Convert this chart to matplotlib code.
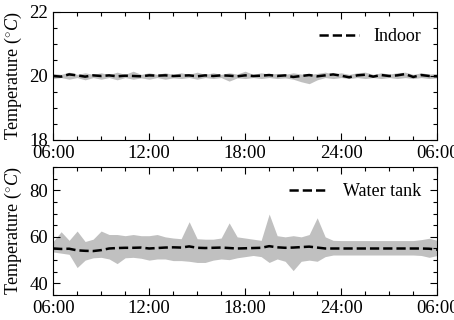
import numpy as np
import matplotlib.pyplot as plt
from matplotlib.ticker import MultipleLocator, FuncFormatter

plt.rcParams['font.family'] = ['Liberation Serif', 'DejaVu Serif']
plt.rcParams['mathtext.fontset'] = 'custom'
plt.rcParams['mathtext.rm'] = 'Liberation Serif'
plt.rcParams['mathtext.it'] = 'Liberation Serif:italic'

# hours since 00:00 of day 1, every half hour from 06:00 to 06:00
hours = np.arange(6.0, 30.01, 0.5)

indoor_mean = [20.00, 19.98, 20.05, 20.02, 19.98, 20.02, 20.00, 20.02, 19.99, 20.01,
               20.00, 19.99, 20.02, 20.01, 20.02, 20.00, 20.01, 20.02, 19.99, 20.02,
               20.00, 20.02, 20.01, 19.99, 20.02, 20.00, 20.01, 20.03, 20.00, 20.02,
               19.97, 20.00, 20.03, 19.99, 20.02, 20.05, 20.01, 19.96, 20.02, 20.04,
               19.98, 20.03, 20.00, 20.02, 20.06, 19.97, 20.03, 20.00, 19.99]
indoor_low = [19.92, 19.95, 19.90, 19.95, 19.88, 19.95, 19.90, 19.95, 19.88, 19.95,
              19.90, 19.94, 19.90, 19.95, 19.90, 19.94, 19.92, 19.95, 19.90, 19.95,
              19.92, 19.95, 19.84, 19.94, 19.92, 19.95, 19.92, 19.95, 19.92, 19.94,
              19.90, 19.82, 19.76, 19.88, 19.95, 19.92, 19.95, 19.92, 19.95, 19.92,
              19.95, 19.92, 19.95, 19.92, 19.95, 19.92, 19.95, 19.92, 19.94]
indoor_high = [20.08, 20.05, 20.12, 20.05, 20.10, 20.05, 20.10, 20.04, 20.12, 20.05,
               20.15, 20.05, 20.10, 20.05, 20.10, 20.05, 20.10, 20.05, 20.12, 20.05,
               20.10, 20.05, 20.10, 20.06, 20.15, 20.05, 20.10, 20.06, 20.08, 20.05,
               20.10, 20.06, 20.05, 20.08, 20.12, 20.06, 20.10, 20.05, 20.10, 20.12,
               20.05, 20.10, 20.06, 20.10, 20.12, 20.05, 20.10, 20.06, 20.08]

tank_mean = [55.0, 54.8, 54.9, 54.2, 54.0, 53.9, 54.3, 55.0, 55.2, 55.3,
             55.3, 55.4, 55.0, 55.2, 55.4, 55.5, 55.4, 55.9, 55.3, 55.2,
             55.3, 55.4, 55.2, 55.0, 55.1, 55.2, 55.3, 56.0, 55.5, 55.3,
             55.4, 55.6, 55.8, 55.4, 55.0, 55.0, 55.0, 55.0, 55.0, 55.0,
             55.0, 55.0, 55.0, 55.0, 55.0, 55.0, 55.0, 54.9, 54.5]
tank_low = [53.5, 53.0, 52.5, 46.8, 50.0, 51.0, 51.2, 50.5, 48.5, 51.0,
            51.2, 50.8, 50.0, 50.5, 50.5, 49.8, 49.8, 49.5, 49.0, 49.0,
            50.0, 50.5, 50.2, 51.0, 51.5, 52.0, 51.5, 49.0, 50.5, 49.5,
            45.5, 49.5, 50.0, 49.5, 51.5, 52.2, 52.2, 52.2, 52.2, 52.2,
            52.2, 52.2, 52.2, 52.2, 52.2, 52.2, 52.0, 51.2, 52.0]
tank_high = [58.0, 62.2, 58.5, 62.5, 58.0, 59.0, 62.5, 61.0, 61.0, 60.5,
             61.0, 60.5, 60.5, 61.0, 60.0, 59.5, 59.2, 66.5, 59.2, 59.0,
             59.0, 59.5, 66.0, 60.0, 59.5, 59.0, 58.5, 69.8, 60.5, 60.0,
             60.5, 60.0, 61.0, 68.2, 60.0, 58.5, 58.4, 58.4, 58.4, 58.4,
             58.4, 58.4, 58.4, 58.4, 58.4, 58.4, 58.8, 59.4, 58.5]


def hhmm(x, pos):
    h = int(round(x))
    return '%02d:00' % (h if h <= 24 else h - 24)


fig = plt.figure(figsize=(4.54, 3.2), dpi=100)
ax1 = fig.add_axes([0.117, 0.5625, 0.846, 0.4])
ax2 = fig.add_axes([0.117, 0.078, 0.846, 0.4])

panels = [
    (ax1, indoor_mean, indoor_low, indoor_high, 'Indoor', (18, 22), 2, 0.5),
    (ax2, tank_mean, tank_low, tank_high, 'Water tank', (35, 90), 20, 5),
]

for ax, mean, low, high, name, ylim, major, minor in panels:
    ax.fill_between(hours, low, high, color='#c0c0c0', linewidth=0)
    ax.plot(hours, mean, '--', color='black', linewidth=1.8, label=name)
    ax.set_xlim(6, 30)
    ax.set_ylim(*ylim)
    ax.xaxis.set_major_locator(MultipleLocator(6))
    ax.xaxis.set_minor_locator(MultipleLocator(1.5))
    ax.xaxis.set_major_formatter(FuncFormatter(hhmm))
    ax.yaxis.set_major_locator(MultipleLocator(major))
    ax.yaxis.set_minor_locator(MultipleLocator(minor))
    ax.tick_params(which='both', direction='in', top=True, right=True, labelsize=13.5)
    ax.tick_params(which='major', length=5, width=0.8)
    ax.tick_params(which='minor', length=3, width=0.8)
    ax.set_ylabel(r'Temperature ($^{\circ}C$)', fontsize=13)
    ax.legend(loc='upper right', frameon=False, fontsize=13, handlelength=2.2)

fig.savefig('out.png', dpi=100)
